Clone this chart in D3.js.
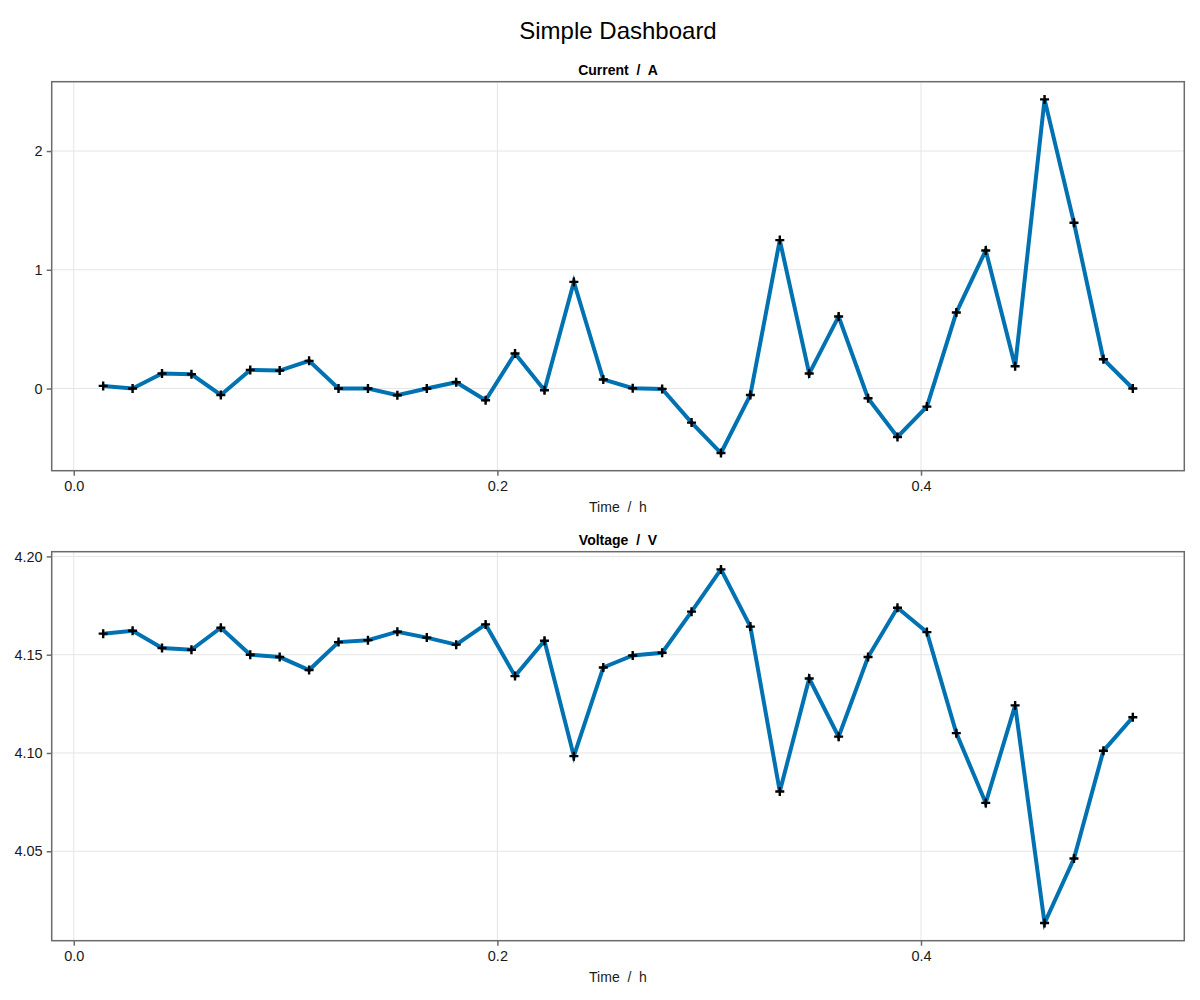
<!DOCTYPE html>
<html>
<head>
<meta charset="utf-8">
<script src="https://cdn.jsdelivr.net/npm/d3@7"></script>
<style>
  html, body { margin: 0; padding: 0; background: #ffffff; }
  svg { display: block; font-family: "Liberation Sans", Arial, Helvetica, sans-serif; }
  text { white-space: pre; }
</style>
</head>
<body>
<svg id="chart" width="1200" height="1000"></svg>
<script>
// ---- data ----
const timeH = [0.01389, 0.02778, 0.04167, 0.05556, 0.06944, 0.08333, 0.09722, 0.11111, 0.12500,
  0.13889, 0.15278, 0.16667, 0.18056, 0.19444, 0.20833, 0.22222, 0.23611, 0.25000,
  0.26389, 0.27778, 0.29167, 0.30556, 0.31944, 0.33333, 0.34722, 0.36111, 0.37500,
  0.38889, 0.40278, 0.41667, 0.43056, 0.44444, 0.45833, 0.47222, 0.48611, 0.50000];
const currentA = [0.022, 0.000, 0.126, 0.120, -0.054, 0.157, 0.151, 0.233, 0.000,
  0.000, -0.056, 0.000, 0.053, -0.099, 0.295, -0.014, 0.898, 0.076,
  0.003, -0.003, -0.287, -0.543, -0.054, 1.250, 0.126, 0.607, -0.082,
  -0.408, -0.152, 0.640, 1.163, 0.188, 2.435, 1.396, 0.247, 0.000];
const voltageV = [4.1607, 4.1622, 4.1534, 4.1525, 4.1637, 4.1500, 4.1488, 4.1422, 4.1564,
  4.1574, 4.1617, 4.1587, 4.1551, 4.1654, 4.1391, 4.1571, 4.0984, 4.1435,
  4.1496, 4.1510, 4.1719, 4.1934, 4.1643, 4.0804, 4.1379, 4.1083, 4.1488,
  4.1739, 4.1615, 4.1101, 4.0746, 4.1242, 4.0135, 4.0463, 4.1011, 4.1182];
const xTicks = [0.0, 0.2, 0.4];
const xTickLabels = ["0.0", "0.2", "0.4"];
const currentTicks = [0, 1, 2];
const currentTickLabels = ["0", "1", "2"];
const voltageTicks = [4.05, 4.10, 4.15, 4.20];
const voltageTickLabels = ["4.05", "4.10", "4.15", "4.20"];

const titleText = "Simple Dashboard";
const panels = [
  { title: "Current  /  A", values: currentA, ticks: currentTicks, labels: currentTickLabels, top: 81.7 },
  { title: "Voltage  /  V", values: voltageV, ticks: voltageTicks, labels: voltageTickLabels, top: 551.7 }
];
const xLabel = "Time  /  h";

// ---- layout ----
const svg = d3.select("#chart");
const left = 51.7, right = 1184.3, panelH = 389;
const lineColor = "#0072b2";
const spineColor = "#6b6b6b";
const gridColor = "#e5e5e5";
const tickFont = 14.5;

function padded(ext) {
  const p = (ext[1] - ext[0]) * 0.05;
  return [ext[0] - p, ext[1] + p];
}

const x = d3.scaleLinear().domain(padded(d3.extent(timeH))).range([left, right]);

svg.append("text")
  .attr("x", (left + right) / 2).attr("y", 39)
  .attr("text-anchor", "middle")
  .attr("font-size", 24)
  .attr("fill", "#000")
  .text(titleText);

panels.forEach(p => {
  const top = p.top, bottom = top + panelH;
  const y = d3.scaleLinear().domain(padded(d3.extent(p.values))).range([bottom, top]);
  const g = svg.append("g");

  // grid
  g.selectAll(".vg").data(xTicks).join("line")
    .attr("x1", d => x(d)).attr("x2", d => x(d))
    .attr("y1", top).attr("y2", bottom)
    .attr("stroke", gridColor).attr("stroke-width", 1);
  g.selectAll(".hg").data(p.ticks).join("line")
    .attr("x1", left).attr("x2", right)
    .attr("y1", d => y(d)).attr("y2", d => y(d))
    .attr("stroke", gridColor).attr("stroke-width", 1);

  // axes via d3 axis
  const xAxis = d3.axisBottom(x).tickValues(xTicks)
    .tickFormat((d, i) => xTickLabels[i]).tickSize(5).tickPadding(5);
  const gx = g.append("g").attr("transform", `translate(0,${bottom})`).call(xAxis)
    .attr("font-size", tickFont).attr("font-family", "'Liberation Sans', Arial, sans-serif");
  gx.select(".domain").remove();
  gx.selectAll("line").attr("stroke", spineColor).attr("stroke-width", 1.5);
  gx.selectAll("text").style("font-size", tickFont + "px").attr("fill", "#1a1a1a");

  const yAxis = d3.axisLeft(y).tickValues(p.ticks)
    .tickFormat((d, i) => p.labels[i]).tickSize(5).tickPadding(4);
  const gy = g.append("g").attr("transform", `translate(${left},0)`).call(yAxis)
    .attr("font-size", tickFont).attr("font-family", "'Liberation Sans', Arial, sans-serif");
  gy.select(".domain").remove();
  gy.selectAll("line").attr("stroke", spineColor).attr("stroke-width", 1.5);
  gy.selectAll("text").style("font-size", tickFont + "px").attr("fill", "#1a1a1a");

  // frame
  g.append("rect")
    .attr("x", left).attr("y", top)
    .attr("width", right - left).attr("height", bottom - top)
    .attr("fill", "none").attr("stroke", spineColor).attr("stroke-width", 1.5);

  // line
  const pts = timeH.map((t, i) => [t, p.values[i]]);
  g.append("path")
    .datum(pts)
    .attr("fill", "none")
    .attr("stroke", lineColor)
    .attr("stroke-width", 4)
    .attr("stroke-linejoin", "miter")
    .attr("d", d3.line().x(d => x(d[0])).y(d => y(d[1])));

  // markers (+)
  const m = 4.5;
  g.selectAll(".mk").data(pts).join("path")
    .attr("d", d => {
      const cx = x(d[0]), cy = y(d[1]);
      return `M${cx - m},${cy}H${cx + m}M${cx},${cy - m}V${cy + m}`;
    })
    .attr("stroke", "#000").attr("stroke-width", 2.4).attr("fill", "none");

  // titles
  svg.append("text")
    .attr("x", (left + right) / 2).attr("y", top - 7)
    .attr("text-anchor", "middle")
    .attr("font-size", 14).attr("font-weight", "bold")
    .attr("fill", "#000")
    .text(p.title);
  svg.append("text")
    .attr("x", (left + right) / 2).attr("y", bottom + 41)
    .attr("text-anchor", "middle")
    .attr("font-size", 14)
    .attr("fill", "#1a1a1a")
    .text(xLabel);
});
</script>
</body>
</html>
